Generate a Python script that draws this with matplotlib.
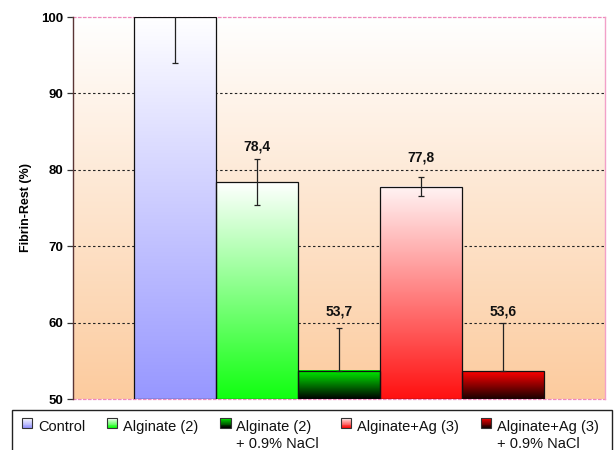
import numpy as np
import matplotlib
matplotlib.use("Agg")
import matplotlib.pyplot as plt
from matplotlib.colors import LinearSegmentedColormap, to_rgb
from matplotlib.patches import Rectangle
from matplotlib.legend_handler import HandlerBase

plt.rcParams['font.family'] = ['Liberation Sans', 'DejaVu Sans']

# ---- data ----
categories = ["Control", "Alginate (2)", "Alginate (2)\n+ 0.9% NaCl",
              "Alginate+Ag (3)", "Alginate+Ag (3)\n+ 0.9% NaCl"]
values = [100.0, 78.4, 53.7, 77.8, 53.6]
err_low = [6.0, 3.0, 0.0, 1.2, 0.0]
err_high = [6.0, 3.0, 5.55, 1.2, 6.3]
value_labels = ["", "78,4", "53,7", "77,8", "53,6"]
yticks = [50, 60, 70, 80, 90, 100]

# ---- style ----
grad_top = ["#FFFFFF", "#FFFFFF", "#00F000", "#FFF4F4", "#FF0000"]
grad_bottom = ["#9797FF", "#10FF10", "#000000", "#FF1010", "#1A0000"]
label_offsets_pt = [0, 8.9, 12.2, 14.6, 8.9]

fig = plt.figure(figsize=(6.14, 4.5), dpi=100)
ax = fig.add_axes([73/614, 51/450, 532/614, 382/450])

ymin, ymax = 50, 100
ax.set_ylim(ymin, ymax)
ax.set_xlim(-1.246, 5.246)

# background gradient
bg = LinearSegmentedColormap.from_list("bg", ["#FCCB9E", "#FFFFFF"])
ax.imshow(np.linspace(0, 1, 256).reshape(-1, 1)[::-1], cmap=bg, aspect='auto',
          extent=[0, 1, 0, 1], transform=ax.transAxes, zorder=-2)

x = np.arange(len(values))
bars = ax.bar(x, [v - ymin for v in values], bottom=ymin, width=1.0,
              facecolor='none', edgecolor='#111111', linewidth=0.9, zorder=3)

for b, top, bot in zip(bars, grad_top, grad_bottom):
    cmap = LinearSegmentedColormap.from_list("g", [bot, top])
    x0 = b.get_x()
    ax.imshow(np.linspace(0, 1, 256).reshape(-1, 1)[::-1], cmap=cmap, aspect='auto',
              extent=[x0, x0 + b.get_width(), b.get_y(), b.get_y() + b.get_height()],
              zorder=2)

ax.set_xlim(-1.246, 5.246)
ax.set_ylim(ymin, ymax)

ax.errorbar(x, values, yerr=[err_low, err_high], fmt='none', ecolor='#222222',
            elinewidth=0.9, capsize=2.5, capthick=0.9, zorder=4)

for xi, v, eh, lab, off in zip(x, values, err_high, value_labels, label_offsets_pt):
    if lab:
        ax.annotate(lab, (xi, v + eh), xytext=(0, off), textcoords='offset points',
                    ha='center', va='center', fontsize=10, fontweight='bold', color='#111111',
                    zorder=5)

# grid
ax.set_yticks(yticks)
ax.yaxis.grid(True, color='#222222', linestyle=(0, (2.2, 2.2)), linewidth=0.8)
ax.set_axisbelow(True)
for gl in ax.get_ygridlines():
    gl.set_zorder(1)
ax.get_ygridlines()[-1].set_visible(False)
ax.get_ygridlines()[0].set_visible(False)
ax.set_xticks([])

# spines
ax.spines['left'].set_color('#5A3535')
ax.spines['left'].set_linewidth(1.0)
ax.spines['right'].set_color('#F2A0C8')
ax.spines['right'].set_linewidth(1.0)
for s in ('top', 'bottom'):
    ax.spines[s].set_color('#EE88BC')
    ax.spines[s].set_linestyle((0, (2, 2)))
    ax.spines[s].set_linewidth(0.9)
ax.spines['bottom'].set_zorder(1)
ax.spines['top'].set_zorder(1)

ax.tick_params(axis='y', length=4, width=0.9, color='#333333', pad=3, labelsize=9.5)
for t in ax.get_yticklabels():
    t.set_fontweight('bold')
ax.set_ylabel("Fibrin-Rest (%)", fontsize=9, fontweight='bold')
ax.yaxis.set_label_coords(-0.077, 0.5)

# legend
class Swatch:
    def __init__(self, top, bottom):
        self.top = np.array(to_rgb(top))
        self.bottom = np.array(to_rgb(bottom))

class SwatchHandler(HandlerBase):
    def __init__(self, shift):
        super().__init__()
        self.shift = shift
    def create_artists(self, legend, orig_handle, xdescent, ydescent, width, height,
                       fontsize, trans):
        arts = []
        n = 12
        y0 = -ydescent + self.shift
        h = height
        for i in range(n):
            f = i / (n - 1)
            c = orig_handle.bottom * (1 - f) + orig_handle.top * f
            r = Rectangle((-xdescent, y0 + i * h / n), width, h / n + 0.05,
                          facecolor=c, edgecolor='none', transform=trans)
            arts.append(r)
        arts.append(Rectangle((-xdescent, y0), width, h, facecolor='none',
                              edgecolor='#333333', linewidth=0.8, transform=trans))
        return arts

fs = 10.5
ls = 1.22
handles = [Swatch(t, b) for t, b in zip(grad_top, grad_bottom)]
labels = [c if "\n" in c else c + "\n " for c in categories]
shift = 0.73 * ls * fs
leg = fig.legend(handles, labels, loc='upper left', bbox_to_anchor=(22/614, 0.066),
                 ncol=5, frameon=False, fontsize=fs, handlelength=0.7, handleheight=0.7,
                 handletextpad=0.4, columnspacing=1.5, borderaxespad=0, borderpad=0,
                 handler_map={Swatch: SwatchHandler(shift)})
for t in leg.get_texts():
    t.set_linespacing(ls)
    t.set_color('#111111')

fig.add_artist(Rectangle((12/614, -0.05), 600/614, 0.05 + 40/450, transform=fig.transFigure,
                         facecolor='none', edgecolor='#222222', linewidth=1.0))

fig.savefig("out.png", dpi=100)
